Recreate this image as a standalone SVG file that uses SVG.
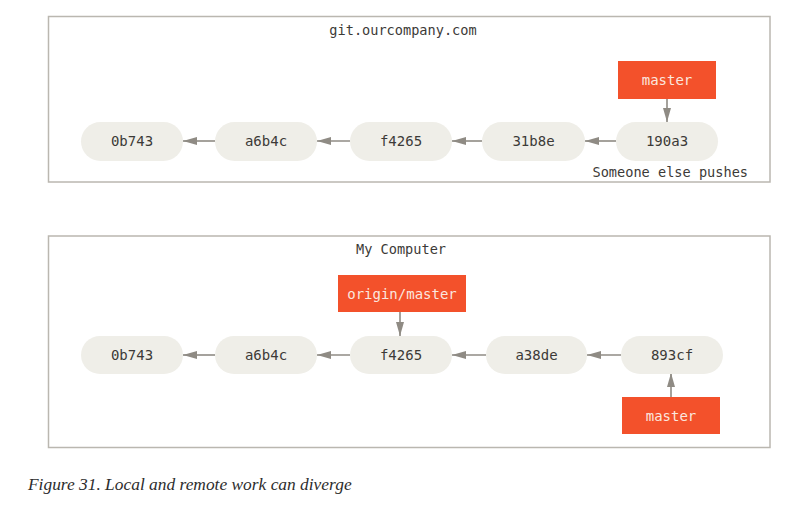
<svg xmlns="http://www.w3.org/2000/svg" width="804" height="508" viewBox="0 0 804 508">
<defs>
<style>
.frame{fill:#ffffff;stroke:#bab7b0;stroke-width:1.5}
.commit{fill:#efeee8}
.branch{fill:#f3512b}
.t{font-family:"DejaVu Sans Mono","Liberation Mono",monospace;font-size:14px;fill:#3c3a37;text-anchor:middle}
.bt{font-family:"DejaVu Sans Mono","Liberation Mono",monospace;font-size:14px;fill:#fbe6df;text-anchor:middle}
.lbl{font-family:"DejaVu Sans Mono","Liberation Mono",monospace;font-size:13.6px;fill:#3c3a37}
.edge{stroke:#8f8b84;stroke-width:1.6;fill:none;marker-end:url(#ah)}
.cap{font-family:"Liberation Serif","DejaVu Serif",serif;font-style:italic;font-size:17.4px;fill:#2d2d2d}
</style>
<marker id="ah" viewBox="0 0 14 8" refX="14" refY="4" markerWidth="14" markerHeight="8" markerUnits="userSpaceOnUse" orient="auto">
<path d="M0,0 L14,4 L0,8 Z" fill="#8f8b84"/>
</marker>
</defs>
<rect width="804" height="508" fill="#ffffff"/>

<g id="remote">
<rect class="frame" x="48.5" y="16.5" width="721.5" height="165.5"/>
<text class="lbl" x="403" y="35" text-anchor="middle">git.ourcompany.com</text>
<text class="lbl" x="748" y="177" text-anchor="end">Someone else pushes</text>
</g>
<g id="local">
<rect class="frame" x="48.5" y="236" width="721.5" height="211.5"/>
<text class="lbl" x="401" y="254" text-anchor="middle">My Computer</text>
</g>

<g id="connectors">
<line class="edge" x1="215" y1="141" x2="183" y2="141"/>
<line class="edge" x1="350" y1="141" x2="317" y2="141"/>
<line class="edge" x1="482" y1="141" x2="452" y2="141"/>
<line class="edge" x1="616" y1="141" x2="585" y2="141"/>
<line class="edge" x1="667" y1="99" x2="667" y2="122"/>
<line class="edge" x1="215" y1="355" x2="183" y2="355"/>
<line class="edge" x1="350" y1="355" x2="317" y2="355"/>
<line class="edge" x1="486" y1="355" x2="452" y2="355"/>
<line class="edge" x1="621" y1="355" x2="587" y2="355"/>
<line class="edge" x1="400" y1="312" x2="400" y2="336"/>
<line class="edge" x1="671" y1="397" x2="671" y2="373"/>
</g>

<g id="r-0b743"><rect class="commit" x="81" y="122" width="102" height="39" rx="19.5"/><text class="t" x="132" y="146">0b743</text></g>
<g id="r-a6b4c"><rect class="commit" x="215" y="122" width="102" height="39" rx="19.5"/><text class="t" x="266" y="146">a6b4c</text></g>
<g id="r-f4265"><rect class="commit" x="350" y="122" width="102" height="39" rx="19.5"/><text class="t" x="401" y="146">f4265</text></g>
<g id="r-31b8e"><rect class="commit" x="482" y="122" width="103" height="39" rx="19.5"/><text class="t" x="533.5" y="146">31b8e</text></g>
<g id="r-190a3"><rect class="commit" x="616" y="122" width="102" height="39" rx="19.5"/><text class="t" x="667" y="146">190a3</text></g>
<g id="r-master"><rect class="branch" x="618" y="61" width="98" height="38"/><text class="bt" x="667" y="85">master</text></g>

<g id="l-0b743"><rect class="commit" x="81" y="336" width="102" height="38" rx="19"/><text class="t" x="132" y="360">0b743</text></g>
<g id="l-a6b4c"><rect class="commit" x="215" y="336" width="102" height="38" rx="19"/><text class="t" x="266" y="360">a6b4c</text></g>
<g id="l-f4265"><rect class="commit" x="350" y="336" width="102" height="38" rx="19"/><text class="t" x="401" y="360">f4265</text></g>
<g id="l-a38de"><rect class="commit" x="486" y="336" width="101" height="38" rx="19"/><text class="t" x="536.5" y="360">a38de</text></g>
<g id="l-893cf"><rect class="commit" x="621" y="336" width="102" height="38" rx="19"/><text class="t" x="672" y="360">893cf</text></g>
<g id="l-origin-master"><rect class="branch" x="338" y="275" width="128" height="37"/><text class="bt" x="402" y="298.5">origin/master</text></g>
<g id="l-master"><rect class="branch" x="622" y="397" width="98" height="37"/><text class="bt" x="671" y="420.5">master</text></g>

<text class="cap" x="28" y="490">Figure 31. Local and remote work can diverge</text>
</svg>
